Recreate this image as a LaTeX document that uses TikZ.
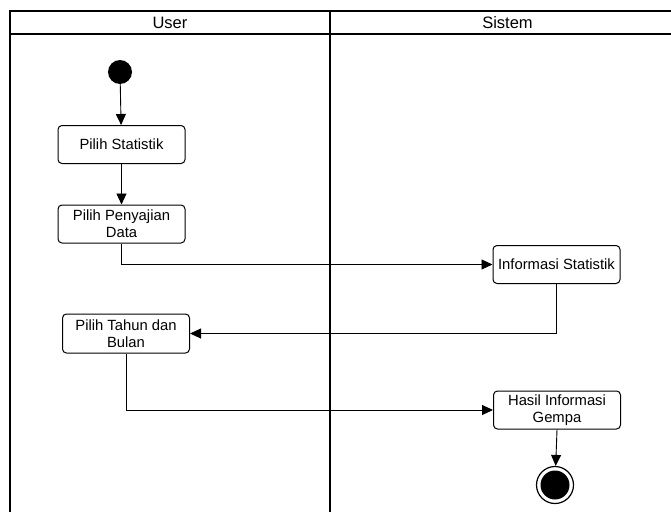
\documentclass[tikz,border=0pt]{standalone}
\usepackage{fontspec}
\setmainfont{Liberation Sans}
\usetikzlibrary{arrows.meta}
\begin{document}
\begin{tikzpicture}[x=1pt,y=-1pt,
  label font/.style={font=\fontsize{14.8}{17}\selectfont},
  header font/.style={font=\fontsize{16.5}{18}\selectfont},
  action/.style={draw, rounded corners=4pt, line width=1pt,
    minimum width=127pt, minimum height=38pt, align=center,
    inner sep=1pt, label font},
  flow/.style={draw, line width=0.9pt, -{Triangle[length=11pt,width=10pt]}},
  lane/.style={line width=1.4pt},
]
\useasboundingbox (0,0) rectangle (671,511);
\fill[white] (0,0) rectangle (671,511);

% swimlanes
\draw[lane] (10,520) -- (10,11) -- (690,11);
\draw[lane] (10,34) -- (690,34);
\draw[line width=2.4pt] (330,11) -- (330,520);
\node[header font] (userhdr) at (170,22.5) {User};
\node[header font] (sishdr) at (507.5,22.5) {Sistem};

% activities
\node[circle, fill=black, minimum size=24pt, inner sep=0pt] (start) at (120,72) {};
\node[action] (ps)  at (121.5,144.5) {Pilih Statistik};
\node[action] (ppd) at (121.5,224) {Pilih Penyajian\\Data};
\node[action] (inf) at (556.5,264.5) {Informasi Statistik};
\node[action, minimum height=39pt] (ptb) at (126,333.5) {Pilih Tahun dan\\Bulan};
\node[action] (hig) at (557,410) {Hasil Informasi\\Gempa};
\node[circle, draw, line width=1.2pt, minimum size=37pt, inner sep=0pt] (end) at (555,485) {};
\node[circle, fill=black, minimum size=29pt, inner sep=0pt] (endin) at (end.center) {};

% control flow
\draw[flow] (start) -- (ps);
\draw[flow] (ps) -- (ppd);
\draw[flow] (ppd.south) |- (inf.west);
\draw[flow] (inf.south) |- (ptb.east);
\draw[flow] (ptb.south) |- (hig.west);
\draw[flow] (hig.south) -- (end);
\end{tikzpicture}
\end{document}
